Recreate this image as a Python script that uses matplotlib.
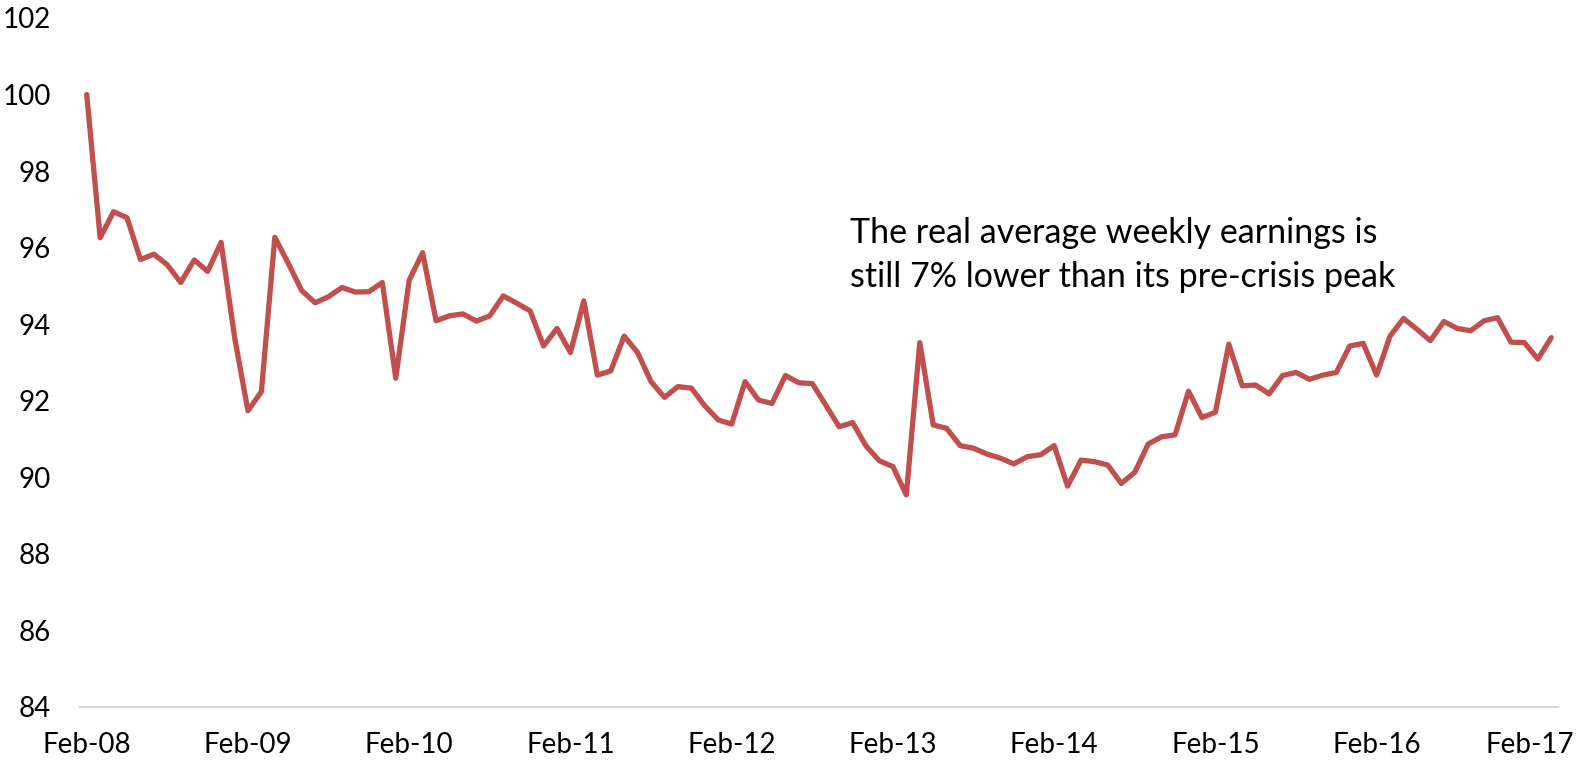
import matplotlib
matplotlib.use("Agg")
import matplotlib.pyplot as plt
import matplotlib.transforms as mtransforms
import numpy as np

# real average weekly earnings index, monthly Feb-08 .. Mar-17 (Feb-08 = 100)
earnings = [
    100.0, 96.26, 96.94, 96.78, 95.69, 95.83, 95.55, 95.09, 95.68, 95.38,
    96.14, 93.67, 91.74, 92.24, 96.27, 95.59, 94.88, 94.56, 94.72, 94.96,
    94.84, 94.85, 95.09, 92.59, 95.15, 95.87, 94.09, 94.22, 94.27, 94.08,
    94.22, 94.74, 94.55, 94.35, 93.43, 93.89, 93.26, 94.61, 92.67, 92.78,
    93.69, 93.26, 92.50, 92.09, 92.37, 92.33, 91.87, 91.50, 91.39, 92.50,
    92.02, 91.93, 92.66, 92.47, 92.45, 91.89, 91.32, 91.43, 90.82, 90.43,
    90.28, 89.54, 93.52, 91.37, 91.28, 90.83, 90.76, 90.61, 90.50, 90.35,
    90.54, 90.59, 90.83, 89.77, 90.45, 90.41, 90.32, 89.84, 90.13, 90.87,
    91.06, 91.11, 92.25, 91.56, 91.70, 93.48, 92.39, 92.41, 92.18, 92.66,
    92.74, 92.56, 92.67, 92.74, 93.43, 93.50, 92.67, 93.69, 94.15, 93.87,
    93.57, 94.07, 93.89, 93.83, 94.09, 94.17, 93.53, 93.52, 93.09, 93.65,
]
year_labels = ["Feb-08", "Feb-09", "Feb-10", "Feb-11", "Feb-12",
               "Feb-13", "Feb-14", "Feb-15", "Feb-16", "Feb-17"]
y_ticks = [84, 86, 88, 90, 92, 94, 96, 98, 100, 102]
note_lines = ["The real average weekly earnings is",
              "still 7% lower than its pre-crisis peak"]

plt.rcParams["font.family"] = ["Lato", "DejaVu Sans"]

W, H = 1581, 764
fig = plt.figure(figsize=(W / 100, H / 100), dpi=100)
ax = fig.add_axes([80 / W, 1 - 707 / H, (1558 - 80) / W, (707 - 18) / H])

x = np.arange(len(earnings))
ax.plot(x, earnings, color="#C0504D", lw=3.8, solid_joinstyle="round",
        solid_capstyle="round")

ax.set_xlim(-0.5, len(earnings) - 0.5)
ax.set_ylim(84, 102)
ax.set_yticks(y_ticks)
ax.set_yticklabels([str(v) for v in y_ticks])
ax.set_xticks(np.arange(len(year_labels)) * 12)
ax.set_xticklabels(year_labels)

for s in ("top", "right", "left"):
    ax.spines[s].set_visible(False)
ax.spines["bottom"].set_color("#D9D9D9")
ax.spines["bottom"].set_linewidth(1.5)
ax.tick_params(axis="both", length=0, labelsize=20, colors="black")
ax.tick_params(axis="y", pad=21)
ax.tick_params(axis="x", pad=18)

# last label is nudged left to stay inside the picture
last = ax.get_xticklabels()[-1]
last.set_transform(last.get_transform() +
                   mtransforms.ScaledTranslation(-8 / 100, 0, fig.dpi_scale_trans))

fig.text(850 / W, 1 - 243 / H, note_lines[0], fontsize=24.5, va="baseline")
fig.text(850 / W, 1 - 287 / H, note_lines[1], fontsize=24.5, va="baseline")

fig.savefig("out.png", dpi=100)
